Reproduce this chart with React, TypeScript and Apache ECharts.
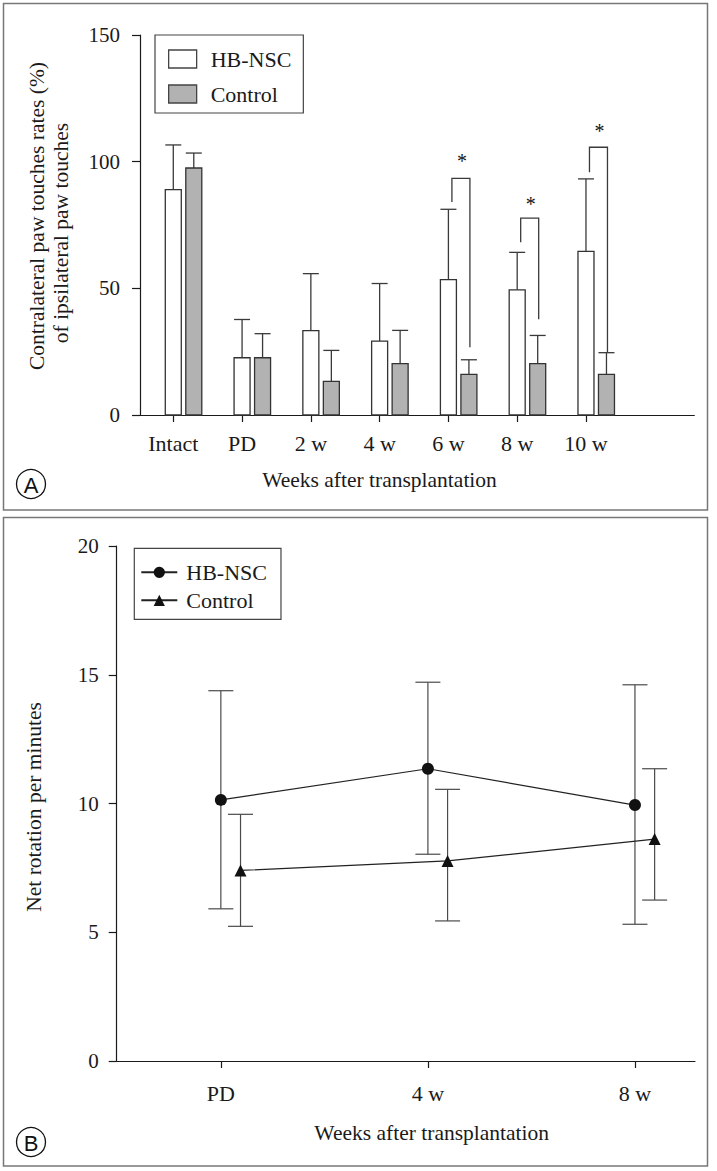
import React, { useEffect, useRef } from 'react';
import * as echarts from 'echarts';

// ---------- Panel A data ----------
const categoriesA = ['Intact', 'PD', '2 w', '4 w', '6 w', '8 w', '10 w'];
const hbMeanA = [89.0, 22.6, 33.3, 29.2, 53.4, 49.4, 64.6];
const hbErrTopA = [106.6, 37.7, 55.8, 51.9, 81.2, 64.2, 93.2];
const ctrlMeanA = [97.5, 22.6, 13.3, 20.3, 16.0, 20.3, 16.0];
const ctrlErrTopA = [103.4, 32.1, 25.5, 33.4, 21.8, 31.4, 24.6];

// significance brackets (category index, bracket top, left leg end, right leg end, star height)
const sigIndexA = [4, 5, 6];
const sigTopA = [93.4, 77.7, 105.7];
const sigLeftEndA = [84.1, 68.2, 95.8];
const sigRightEndA = [26.7, 37.8, 24.7];
const sigStarA = [102.4, 85.4, 114.0];

// ---------- Panel B data ----------
const categoriesB = ['PD', '4 w', '8 w'];
const hbMeanB = [10.14, 11.35, 9.94];
const hbLowB = [5.91, 8.03, 5.31];
const hbHighB = [14.38, 14.71, 14.61];
const ctrlMeanB = [7.4, 7.77, 8.62];
const ctrlLowB = [5.23, 5.44, 6.25];
const ctrlHighB = [9.58, 10.55, 11.35];

const SERIF = 'Liberation Serif';
const INK = '#1a1a1a';
const BAR_STROKE = '#333';
const GRAY = '#b2b2b2';

function barSeries(name: string, means: number[], tops: number[], offsetPx: number, fill: string) {
  return {
    type: 'custom',
    name,
    xAxisIndex: 0,
    yAxisIndex: 0,
    z: 3,
    data: means.map((v, i) => [i, v, tops[i]]),
    encode: { x: 0, y: [1, 2] },
    renderItem: (params: any, api: any) => {
      const i = api.value(0);
      const base = api.coord([i, 0]);
      const top = api.coord([i, api.value(1)]);
      const et = api.coord([i, api.value(2)]);
      const cx = base[0] + offsetPx;
      const hw = 8;
      return {
        type: 'group',
        children: [
          { type: 'line', shape: { x1: cx, y1: top[1], x2: cx, y2: et[1] }, style: { stroke: '#3a3a3a', lineWidth: 1.3 } },
          { type: 'line', shape: { x1: cx - hw, y1: et[1], x2: cx + hw, y2: et[1] }, style: { stroke: '#3a3a3a', lineWidth: 1.3 } },
          { type: 'rect', shape: { x: cx - hw, y: top[1], width: hw * 2, height: base[1] - top[1] }, style: { fill, stroke: BAR_STROKE, lineWidth: 1.3 } },
        ],
      };
    },
  };
}

function errSeries(name: string, means: number[], lows: number[], highs: number[], offset: number) {
  return {
    type: 'custom',
    name,
    xAxisIndex: 1,
    yAxisIndex: 1,
    z: 2,
    data: means.map((v, i) => [i + offset, lows[i], highs[i]]),
    encode: { x: 0, y: [1, 2] },
    renderItem: (params: any, api: any) => {
      const x = api.value(0);
      const lo = api.coord([x, api.value(1)]);
      const hi = api.coord([x, api.value(2)]);
      const hw = 12.5;
      const st = { stroke: '#4a4a4a', lineWidth: 1.2 };
      return {
        type: 'group',
        children: [
          { type: 'line', shape: { x1: lo[0], y1: lo[1], x2: hi[0], y2: hi[1] }, style: st },
          { type: 'line', shape: { x1: lo[0] - hw, y1: lo[1], x2: lo[0] + hw, y2: lo[1] }, style: st },
          { type: 'line', shape: { x1: hi[0] - hw, y1: hi[1], x2: hi[0] + hw, y2: hi[1] }, style: st },
        ],
      };
    },
  };
}

const CTRL_OFFSET_B = 0.095;

export default function App() {
  const ref = useRef<HTMLDivElement>(null);

  useEffect(() => {
    if (!ref.current) return;
    const chart = echarts.init(ref.current, undefined, { renderer: 'svg' });

    const option: any = {
      animation: false,
      backgroundColor: '#ffffff',
      textStyle: { fontFamily: SERIF },
      grid: [
        { left: 140, top: 35, width: 554.3, height: 380 },
        { left: 116.7, top: 546, width: 578.3, height: 515 },
      ],
      xAxis: [
        {
          type: 'value',
          gridIndex: 0,
          min: -0.484,
          max: 7.575,
          axisLine: { show: true, onZero: false, lineStyle: { color: INK, width: 1.2 } },
          axisTick: { show: true, customValues: [0, 1, 2, 3, 4, 5, 6], length: 7, lineStyle: { color: INK, width: 1.2 } },
          axisLabel: {
            customValues: [0, 1, 2, 3, 4, 5, 6],
            formatter: (v: number) => categoriesA[Math.round(v)] ?? '',
            margin: 17,
            fontFamily: SERIF,
            fontSize: 22,
            color: INK,
          },
          splitLine: { show: false },
        },
        {
          type: 'value',
          gridIndex: 1,
          min: -0.503,
          max: 2.29,
          axisLine: { show: true, onZero: false, lineStyle: { color: INK, width: 1.2 } },
          axisTick: { show: true, customValues: [0, 1, 2], length: 7, lineStyle: { color: INK, width: 1.2 } },
          axisLabel: {
            customValues: [0, 1, 2],
            formatter: (v: number) => categoriesB[Math.round(v)] ?? '',
            margin: 21,
            fontFamily: SERIF,
            fontSize: 22,
            color: INK,
          },
          splitLine: { show: false },
        },
      ],
      yAxis: [
        {
          type: 'value',
          gridIndex: 0,
          min: 0,
          max: 150,
          interval: 50,
          axisLine: { show: true, onZero: false, lineStyle: { color: INK, width: 1.2 } },
          axisTick: { show: true, length: 8, lineStyle: { color: INK, width: 1.2 } },
          axisLabel: { margin: 20, fontFamily: SERIF, fontSize: 21, color: INK },
          splitLine: { show: false },
        },
        {
          type: 'value',
          gridIndex: 1,
          min: 0,
          max: 20,
          interval: 5,
          axisLine: { show: true, onZero: false, lineStyle: { color: INK, width: 1.2 } },
          axisTick: { show: true, length: 8, lineStyle: { color: INK, width: 1.2 } },
          axisLabel: { margin: 18, fontFamily: SERIF, fontSize: 21, color: INK },
          splitLine: { show: false },
        },
      ],
      legend: [
        {
          orient: 'vertical',
          left: 155,
          top: 35,
          padding: [13, 12, 8, 13],
          itemGap: 13,
          itemWidth: 28,
          itemHeight: 18,
          borderColor: '#444',
          borderWidth: 1.2,
          selectedMode: false,
          textStyle: { fontFamily: SERIF, fontSize: 22, color: INK, padding: [0, 0, 0, 9] },
          data: [
            { name: 'HB-NSC', icon: 'rect', itemStyle: { color: '#ffffff', borderColor: '#444', borderWidth: 1.3 } },
            { name: 'Control', icon: 'rect', itemStyle: { color: GRAY, borderColor: '#444', borderWidth: 1.3 } },
          ],
        },
        {
          orient: 'vertical',
          left: 134.3,
          top: 548.3,
          padding: [13, 14, 8, 6],
          itemGap: 6,
          itemWidth: 36,
          itemHeight: 14,
          borderColor: '#444',
          borderWidth: 1.2,
          selectedMode: false,
          formatter: (n: string) => n.trim(),
          textStyle: { fontFamily: SERIF, fontSize: 22, color: INK, padding: [0, 0, 0, 4] },
          data: ['HB-NSC ', 'Control '],
        },
      ],
      series: [
        barSeries('HB-NSC', hbMeanA, hbErrTopA, 0, '#ffffff'),
        barSeries('Control', ctrlMeanA, ctrlErrTopA, 20.5, GRAY),
        {
          type: 'custom',
          name: 'sig',
          xAxisIndex: 0,
          yAxisIndex: 0,
          z: 4,
          data: sigIndexA.map((c, k) => [c, sigTopA[k], sigLeftEndA[k], sigRightEndA[k], sigStarA[k]]),
          encode: { x: 0, y: [1, 2, 3, 4] },
          renderItem: (params: any, api: any) => {
            const c = api.value(0);
            const top = api.coord([c, api.value(1)]);
            const le = api.coord([c, api.value(2)]);
            const re = api.coord([c, api.value(3)]);
            const st = api.coord([c, api.value(4)]);
            const xl = top[0] + 3.5;
            const xr = top[0] + 21.5;
            const s = { stroke: '#3a3a3a', lineWidth: 1.3, fill: 'none' };
            return {
              type: 'group',
              children: [
                { type: 'polyline', shape: { points: [[xl, le[1]], [xl, top[1]], [xr, top[1]], [xr, re[1]]] }, style: s },
                {
                  type: 'text',
                  x: top[0] + 13.5,
                  y: st[1] + 5,
                  style: { text: '*', fill: '#111', fontSize: 20, fontFamily: SERIF, align: 'center', verticalAlign: 'middle' },
                },
              ],
            };
          },
        },
        errSeries('errHB', hbMeanB, hbLowB, hbHighB, 0),
        errSeries('errCtrl', ctrlMeanB, ctrlLowB, ctrlHighB, CTRL_OFFSET_B),
        {
          type: 'line',
          name: 'HB-NSC ',
          xAxisIndex: 1,
          yAxisIndex: 1,
          z: 5,
          data: hbMeanB.map((v, i) => [i, v]),
          symbol: 'circle',
          symbolSize: 12,
          itemStyle: { color: '#111' },
          lineStyle: { color: '#222', width: 1.2 },
        },
        {
          type: 'line',
          name: 'Control ',
          xAxisIndex: 1,
          yAxisIndex: 1,
          z: 5,
          data: ctrlMeanB.map((v, i) => [i + CTRL_OFFSET_B, v]),
          symbol: 'triangle',
          symbolSize: 12,
          itemStyle: { color: '#111' },
          lineStyle: { color: '#222', width: 1.2 },
        },
      ],
      graphic: [
        { type: 'rect', shape: { x: 3.5, y: 3.5, width: 704, height: 506.5 }, style: { fill: 'none', stroke: '#777', lineWidth: 1.5 }, silent: true },
        { type: 'rect', shape: { x: 3.5, y: 517.5, width: 704, height: 648.5 }, style: { fill: 'none', stroke: '#777', lineWidth: 1.5 }, silent: true },
        {
          type: 'text', x: 36.7, y: 216, rotation: Math.PI / 2,
          style: { text: 'Contralateral paw touches rates (%)', fontFamily: SERIF, fontSize: 21.5, fill: INK, align: 'center', verticalAlign: 'middle' },
        },
        {
          type: 'text', x: 60.8, y: 233, rotation: Math.PI / 2,
          style: { text: 'of ipsilateral paw touches', fontFamily: SERIF, fontSize: 21.5, fill: INK, align: 'center', verticalAlign: 'middle' },
        },
        {
          type: 'text', x: 379.5, y: 480,
          style: { text: 'Weeks after transplantation', fontFamily: SERIF, fontSize: 21.5, fill: INK, align: 'center', verticalAlign: 'middle' },
        },
        {
          type: 'text', x: 34.3, y: 807, rotation: Math.PI / 2,
          style: { text: 'Net rotation per minutes', fontFamily: SERIF, fontSize: 21.5, fill: INK, align: 'center', verticalAlign: 'middle' },
        },
        {
          type: 'text', x: 431.7, y: 1133,
          style: { text: 'Weeks after transplantation', fontFamily: SERIF, fontSize: 21.5, fill: INK, align: 'center', verticalAlign: 'middle' },
        },
        { type: 'circle', shape: { cx: 31, cy: 484, r: 14.5 }, style: { fill: '#fff', stroke: '#111', lineWidth: 1.3 } },
        { type: 'text', x: 31, y: 485, style: { text: 'A', fontFamily: 'Liberation Sans', fontSize: 22, fill: '#111', align: 'center', verticalAlign: 'middle' } },
        { type: 'circle', shape: { cx: 31, cy: 1142, r: 14.5 }, style: { fill: '#fff', stroke: '#111', lineWidth: 1.3 } },
        { type: 'text', x: 31, y: 1143, style: { text: 'B', fontFamily: 'Liberation Sans', fontSize: 22, fill: '#111', align: 'center', verticalAlign: 'middle' } },
      ],
    };

    chart.setOption(option);
    return () => {
      chart.dispose();
    };
  }, []);

  return (
    <div
      ref={ref}
      style={{ position: 'absolute', left: 0, top: 0, width: 717, height: 1171, background: '#fff' }}
    />
  );
}
